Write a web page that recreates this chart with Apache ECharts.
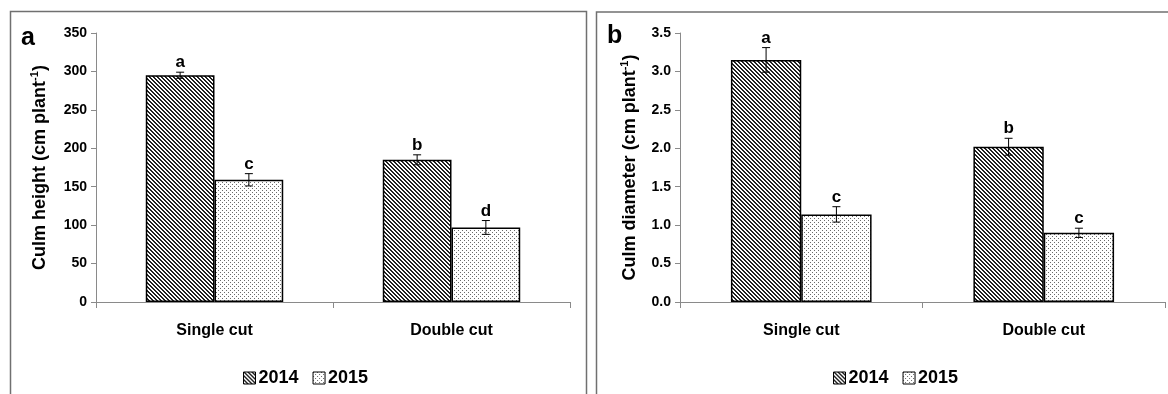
<!DOCTYPE html>
<html>
<head>
<meta charset="utf-8">
<script src="https://cdn.jsdelivr.net/npm/echarts@6/dist/echarts.min.js"></script>
<style>
  html, body { margin: 0; padding: 0; background: #fff; }
  #chart { width: 1168px; height: 394px; }
</style>
</head>
<body>
<div id="chart"></div>
<script>
// Treatments and seasons
const categories = ['Single cut', 'Double cut'];
const years = ['2014', '2015'];

// Culm height (cm plant-1): means, standard errors and significance letters
const heightMean2014 = [295, 185];
const heightErr2014 = [4, 6.5];
const heightLetters2014 = ['a', 'b'];
const heightMean2015 = [159, 97];
const heightErr2015 = [8, 9];
const heightLetters2015 = ['c', 'd'];

// Culm diameter (cm plant-1)
const diamMean2014 = [3.15, 2.02];
const diamErr2014 = [0.16, 0.11];
const diamLetters2014 = ['a', 'b'];
const diamMean2015 = [1.14, 0.90];
const diamErr2015 = [0.10, 0.06];
const diamLetters2015 = ['c', 'c'];

// Axis ticks
const heightTicks = [0, 50, 100, 150, 200, 250, 300, 350];
const diamTicks = [0, 0.5, 1.0, 1.5, 2.0, 2.5, 3.0, 3.5];

const FONT = "'Liberation Sans', Arial, sans-serif";
const GAP = 0.42;

// Hatch fill: dense dark diagonal stripes
function stripePattern() {
  const c = document.createElement('canvas');
  c.width = 4; c.height = 4;
  const g = c.getContext('2d');
  g.fillStyle = '#fff'; g.fillRect(0, 0, 4, 4);
  g.fillStyle = '#222';
  for (let i = 0; i < 4; i++) {
    g.fillRect(i, i, 1, 1);
    g.fillRect((i + 1) % 4, i, 1, 1);
  }
  return { image: c, repeat: 'repeat' };
}
// Fine dot fill
function dotPattern() {
  const c = document.createElement('canvas');
  c.width = 4; c.height = 4;
  const g = c.getContext('2d');
  g.fillStyle = '#fff'; g.fillRect(0, 0, 4, 4);
  g.fillStyle = '#6a6a6a';
  g.fillRect(0, 0, 1, 1);
  g.fillRect(2, 2, 1, 1);
  return { image: c, repeat: 'repeat' };
}
const fill2014 = stripePattern();
const fill2015 = dotPattern();

function barSeries(name, data, idx, fill) {
  return {
    name: name, type: 'bar', xAxisIndex: idx, yAxisIndex: idx,
    data: data, barGap: '0%', barCategoryGap: (GAP * 100) + '%',
    itemStyle: { color: fill, borderColor: '#000', borderWidth: 1.5 },
    z: 2
  };
}

// Error bars with significance letters drawn above each bar
function errorSeries(name, means, errs, letters, idx, shift) {
  return {
    name: name, type: 'custom', xAxisIndex: idx, yAxisIndex: idx,
    data: means.map((m, i) => [i, m, errs[i]]),
    z: 5,
    renderItem: function (params, api) {
      const cat = api.value(0), m = api.value(1), e = api.value(2);
      const catW = api.size([1, 0])[0];
      const bw = catW * (1 - GAP) / 2;
      const x = api.coord([cat, m])[0] + shift * bw / 2;
      const yTop = api.coord([cat, m + e])[1];
      const yBot = api.coord([cat, m - e])[1];
      const cap = 4;
      const st = { stroke: '#000', lineWidth: 1 };
      return {
        type: 'group',
        children: [
          { type: 'line', shape: { x1: x, y1: yTop, x2: x, y2: yBot }, style: st },
          { type: 'line', shape: { x1: x - cap, y1: yTop, x2: x + cap, y2: yTop }, style: st },
          { type: 'line', shape: { x1: x - cap, y1: yBot, x2: x + cap, y2: yBot }, style: st },
          { type: 'text', x: x, y: yTop - 1,
            style: { text: letters[params.dataIndex], fill: '#000', font: 'bold 17px ' + FONT,
                     align: 'center', verticalAlign: 'bottom' } }
        ]
      };
    }
  };
}

function xAxisCfg(idx) {
  return {
    type: 'category', gridIndex: idx, data: categories,
    axisLine: { lineStyle: { color: '#8a8a8a', width: 1 } },
    axisTick: { show: true, alignWithLabel: false, length: 6, lineStyle: { color: '#8a8a8a' } },
    axisLabel: { color: '#000', fontFamily: FONT, fontWeight: 'bold', fontSize: 16, margin: 21 }
  };
}

function yAxisCfg(idx, ticks, nameRich, gap, digits) {
  return {
    type: 'value', gridIndex: idx,
    min: ticks[0], max: ticks[ticks.length - 1], interval: ticks[1] - ticks[0],
    name: nameRich, nameLocation: 'middle', nameGap: gap, nameRotate: 90,
    nameTextStyle: {
      color: '#000',
      rich: {
        t: { fontFamily: FONT, fontWeight: 'bold', fontSize: 18, lineHeight: 22 },
        s: { fontFamily: FONT, fontWeight: 'bold', fontSize: 11, lineHeight: 11, verticalAlign: 'top' }
      }
    },
    axisLine: { show: true, lineStyle: { color: '#8a8a8a', width: 1 } },
    axisTick: { show: true, inside: false, length: 5, lineStyle: { color: '#8a8a8a' } },
    splitLine: { show: false },
    axisLabel: {
      color: '#000', fontFamily: FONT, fontWeight: 'bold', fontSize: 14, margin: 9,
      formatter: v => v.toFixed(digits)
    }
  };
}

const chart = echarts.init(document.getElementById('chart'), null, { renderer: 'canvas' });

const legendBase = {
  orient: 'horizontal', top: 364, itemWidth: 12, itemHeight: 12, itemGap: 14,
  icon: 'rect',
  itemStyle: { borderColor: '#000', borderWidth: 1 },
  textStyle: { color: '#000', fontFamily: FONT, fontWeight: 'bold', fontSize: 18, padding: [0, 0, 0, -2] },
  data: years
};

chart.setOption({
  animation: false,
  backgroundColor: '#fff',
  grid: [
    { left: 96, width: 474, top: 33, bottom: 92 },
    { left: 680, width: 485, top: 33, bottom: 92 }
  ],
  legend: [
    Object.assign({}, legendBase, { left: 238 }),
    Object.assign({}, legendBase, { left: 828 })
  ],
  xAxis: [xAxisCfg(0), xAxisCfg(1)],
  yAxis: [
    yAxisCfg(0, heightTicks, '{t|Culm height (cm plant}{s|-1}{t|)}', 45, 0),
    yAxisCfg(1, diamTicks, '{t|Culm diameter (cm plant}{s|-1}{t|)}', 39, 1)
  ],
  graphic: [
    { type: 'rect', shape: { x: 10.5, y: 11.5, width: 576, height: 400 },
      style: { fill: 'none', stroke: '#707070', lineWidth: 1.5 }, silent: true },
    { type: 'rect', shape: { x: 596.5, y: 12, width: 600, height: 400 },
      style: { fill: 'none', stroke: '#707070', lineWidth: 1.5 }, silent: true },
    { type: 'text', left: 21, top: 26, style: { text: 'a', font: 'bold 25px ' + FONT, fill: '#000' } },
    { type: 'text', left: 607, top: 24, style: { text: 'b', font: 'bold 25px ' + FONT, fill: '#000' } }
  ],
  series: [
    barSeries('2014', heightMean2014, 0, fill2014),
    barSeries('2015', heightMean2015, 0, fill2015),
    barSeries('2014', diamMean2014, 1, fill2014),
    barSeries('2015', diamMean2015, 1, fill2015),
    errorSeries('2014', heightMean2014, heightErr2014, heightLetters2014, 0, -1),
    errorSeries('2015', heightMean2015, heightErr2015, heightLetters2015, 0, 1),
    errorSeries('2014', diamMean2014, diamErr2014, diamLetters2014, 1, -1),
    errorSeries('2015', diamMean2015, diamErr2015, diamLetters2015, 1, 1)
  ]
});
</script>
</body>
</html>
